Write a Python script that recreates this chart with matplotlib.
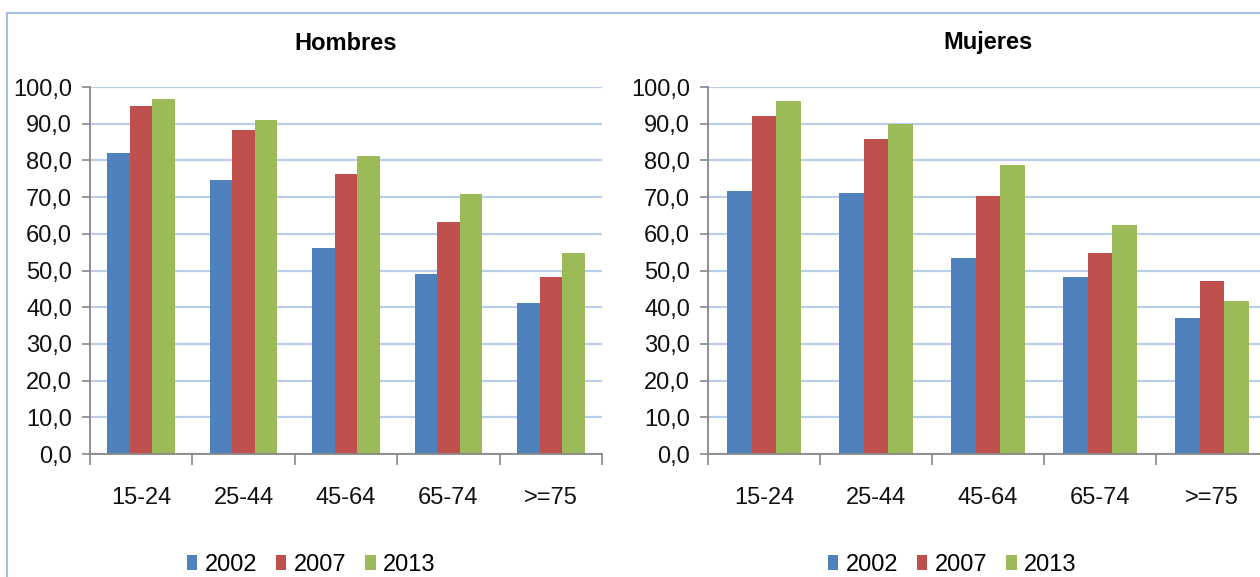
import matplotlib
matplotlib.use("Agg")
from matplotlib import pyplot as plt
from matplotlib.lines import Line2D
import numpy as np

plt.rcParams['font.family'] = ['Liberation Sans', 'DejaVu Sans']

# age groups and survey years
groups = ['15-24', '25-44', '45-64', '65-74', '>=75']
years = ['2002', '2007', '2013']
colors = ['#4F81BD', '#C0504D', '#9BBB59']

# Hombres
men_2002 = [82.1, 74.6, 56.1, 49.1, 41.1]
men_2007 = [94.9, 88.3, 76.4, 63.3, 48.1]
men_2013 = [96.7, 91.1, 81.1, 70.8, 54.8]

# Mujeres
women_2002 = [71.7, 71.2, 53.3, 48.1, 37.0]
women_2007 = [92.0, 85.9, 70.3, 54.8, 47.2]
women_2013 = [96.3, 89.8, 78.8, 62.3, 41.6]

W, H = 1260, 577
fig = plt.figure(figsize=(W / 100, H / 100), dpi=100)

def px_axes(x0, y_top, w, h):
    return fig.add_axes([x0 / W, (H - y_top - h) / H, w / W, h / H])

def draw_panel(ax, series, title):
    x = np.arange(len(groups))
    bw = 0.22
    for i, (vals, c) in enumerate(zip(series, colors)):
        ax.bar(x + (i - 1) * bw, vals, bw, color=c, label=years[i], zorder=3)
    ax.set_xlim(-0.5, len(groups) - 0.5)
    ax.set_ylim(0, 100)
    ax.set_yticks(np.arange(0, 101, 10))
    ax.set_yticklabels([f'{v:.1f}'.replace('.', ',') for v in np.arange(0, 101, 10)])
    ax.set_xticks(x)
    ax.set_xticklabels(groups)
    ax.set_xticks(np.arange(-0.5, len(groups)), minor=True)
    ax.tick_params(axis='x', which='major', length=0, pad=24, labelsize=17, colors='#111111')
    ax.tick_params(axis='x', which='minor', length=8, width=1.2, color='#888888', direction='out')
    ax.tick_params(axis='y', length=6, width=1.2, color='#888888', pad=7, labelsize=17, labelcolor='#111111')
    ax.grid(axis='y', color='#BACDEA', lw=1.6, zorder=0)
    for s in ['top', 'right']:
        ax.spines[s].set_visible(False)
    for s in ['left', 'bottom']:
        ax.spines[s].set_color('#888888')
        ax.spines[s].set_linewidth(1.3)
        ax.spines[s].set_zorder(4)
    ax.set_title(title, fontsize=17, fontweight='bold', pad=27)

ax1 = px_axes(90, 87, 512, 367)
draw_panel(ax1, [men_2002, men_2007, men_2013], 'Hombres')

ax2 = px_axes(708, 87, 560, 367)
draw_panel(ax2, [women_2002, women_2007, women_2013], 'Mujeres')

for ax, cx in [(ax1, 311), (ax2, 952)]:
    h, l = ax.get_legend_handles_labels()
    fig.legend(h, l, loc='center', bbox_to_anchor=(cx / W, 12 / H), ncol=3, frameon=False,
               fontsize=17, handlelength=0.45, handleheight=0.6, handletextpad=0.3,
               columnspacing=0.8, borderpad=0)

# light chart border (top and left)
fig.add_artist(Line2D([7 / W, 7 / W], [0, (H - 13) / H], color='#A7BFE3', lw=1.5))
fig.add_artist(Line2D([7 / W, 1], [(H - 13) / H, (H - 13) / H], color='#A7BFE3', lw=1.5))

fig.savefig('out.png', dpi=100)
